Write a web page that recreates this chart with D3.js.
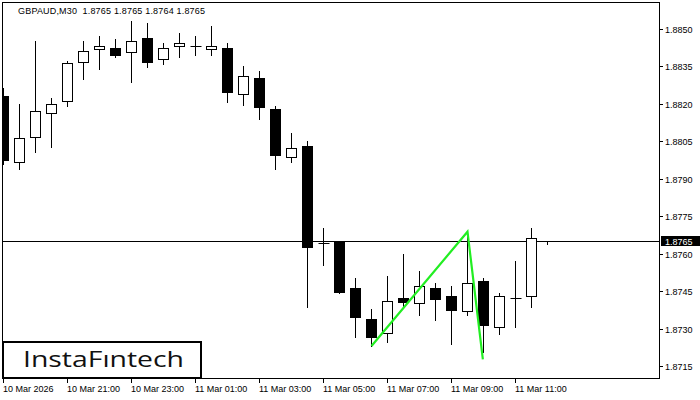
<!DOCTYPE html>
<html lang="en">
<head>
    <meta charset="UTF-8">
    <title>GBPAUD M30</title>
    <style>
        body { margin: 0; background: #fff; }
        text { font-family: "Liberation Sans", Arial, sans-serif; }
    </style>
</head>
<body></body>
<script src="https://cdn.jsdelivr.net/npm/d3@7"></script>
<script>
    let width = 700;
    let height = 400;

    // candles, one per 30 minutes, starting 10 Mar 19:00
    const opens  = [1.88232, 1.87967, 1.88069, 1.88164, 1.88210, 1.88368, 1.88421, 1.88424, 1.88409, 1.88464,
                    1.88381, 1.88431, 1.88433, 1.88421, 1.88424, 1.88241, 1.88304, 1.88180, 1.87988, 1.88031,
                    1.87641, 1.87650, 1.87461, 1.87337, 1.87281, 1.87421, 1.87401, 1.87461, 1.87429, 1.87369,
                    1.87490, 1.87307, 1.87421, 1.87429, 1.87650];
    const highs  = [1.88264, 1.88200, 1.88452, 1.88224, 1.88372, 1.88452, 1.88472, 1.88461, 1.88533, 1.88525,
                    1.88445, 1.88484, 1.88472, 1.88512, 1.88445, 1.88352, 1.88332, 1.88192, 1.88083, 1.88051,
                    1.87703, 1.87650, 1.87501, 1.87378, 1.87511, 1.87599, 1.87531, 1.87483, 1.87470, 1.87688,
                    1.87501, 1.87442, 1.87571, 1.87703, 1.87650];
    const lows   = [1.87959, 1.87939, 1.88007, 1.88027, 1.88190, 1.88300, 1.88341, 1.88389, 1.88289, 1.88349,
                    1.88361, 1.88389, 1.88397, 1.88397, 1.88209, 1.88197, 1.88141, 1.87940, 1.87967, 1.87388,
                    1.87556, 1.87441, 1.87267, 1.87230, 1.87247, 1.87386, 1.87355, 1.87335, 1.87239, 1.87355,
                    1.87207, 1.87279, 1.87307, 1.87388, 1.87640];
    const closes = [1.87975, 1.88063, 1.88172, 1.88200, 1.88362, 1.88412, 1.88432, 1.88397, 1.88452, 1.88369,
                    1.88423, 1.88444, 1.88433, 1.88432, 1.88249, 1.88311, 1.88189, 1.87996, 1.88022, 1.87628,
                    1.87641, 1.87448, 1.87347, 1.87267, 1.87409, 1.87408, 1.87469, 1.87420, 1.87376, 1.87481,
                    1.87315, 1.87429, 1.87421, 1.87662, 1.87650];

    const xTickIdx = [0, 4, 8, 12, 16, 20, 24, 28, 32];
    const xTickLabels = ["10 Mar 2026", "10 Mar 21:00", "10 Mar 23:00", "11 Mar 01:00", "11 Mar 03:00",
                         "11 Mar 05:00", "11 Mar 07:00", "11 Mar 09:00", "11 Mar 11:00"];
    const yTicks = [1.8850, 1.8835, 1.8820, 1.8805, 1.8790, 1.8775, 1.8760, 1.8745, 1.8730, 1.8715];

    const lastPrice = 1.8765;
    const title = "GBPAUD,M30  1.8765 1.8765 1.8764 1.8765";

    // pattern drawn in green
    const patternIdx = [23, 29, 29.96];
    const patternPrice = [1.87230, 1.87688, 1.87177];

    const pLeft = 3, pRight = 660, pTop = 2, pBottom = 378;

    let svg = d3.select("body")
                .append("svg")
                .attr("width", width)
                .attr("height", height)
                .style("display", "block");

    const x = d3.scaleLinear().domain([0, 41]).range([3.5, 659.5]);
    const y = d3.scaleLinear().domain([1.8715, 1.8850]).range([366, 29]);

    svg.append("clipPath").attr("id", "plot")
        .append("rect")
        .attr("x", pLeft).attr("y", pTop)
        .attr("width", pRight - pLeft).attr("height", pBottom - pTop);

    // price line
    svg.append("line")
        .attr("x1", pLeft).attr("x2", pRight)
        .attr("y1", Math.round(y(lastPrice)) + 0.5)
        .attr("y2", Math.round(y(lastPrice)) + 0.5)
        .attr("stroke", "black");

    const candles = d3.range(opens.length).map(i => ({
        i: i, o: opens[i], h: highs[i], l: lows[i], c: closes[i]
    }));

    const g = svg.append("g").attr("clip-path", "url(#plot)");

    const cg = g.selectAll("g.candle")
        .data(candles)
        .enter()
        .append("g")
        .attr("class", "candle");

    cg.append("line")
        .attr("x1", d => x(d.i)).attr("x2", d => x(d.i))
        .attr("y1", d => Math.round(y(d.h)))
        .attr("y2", d => Math.round(y(d.l)) + 1)
        .attr("stroke", "black");

    cg.filter(d => Math.abs(y(d.o) - y(d.c)) >= 1.5)
        .append("rect")
        .attr("x", d => x(d.i) - 5)
        .attr("y", d => Math.round(y(Math.max(d.o, d.c))) + 0.5)
        .attr("width", 10)
        .attr("height", d => Math.round(y(Math.min(d.o, d.c))) - Math.round(y(Math.max(d.o, d.c))))
        .attr("fill", d => d.c < d.o ? "black" : "white")
        .attr("stroke", "black");

    cg.filter(d => Math.abs(y(d.o) - y(d.c)) < 1.5)
        .append("line")
        .attr("x1", d => x(d.i) - 5).attr("x2", d => x(d.i) + 6)
        .attr("y1", d => Math.round(y(d.o)) + 0.5)
        .attr("y2", d => Math.round(y(d.o)) + 0.5)
        .attr("stroke", "black");

    // green pattern
    const pts = patternIdx.map((v, k) => [x(v), y(patternPrice[k])]);
    g.append("path")
        .attr("d", d3.line()(pts))
        .attr("fill", "none")
        .attr("stroke", "#22ee22")
        .attr("stroke-width", 2.2);

    // frame
    svg.append("rect")
        .attr("x", pLeft - 0.5).attr("y", pTop + 0.5)
        .attr("width", pRight - pLeft).attr("height", pBottom - pTop)
        .attr("fill", "none")
        .attr("stroke", "black");

    // y axis
    const ya = svg.append("g");
    yTicks.forEach(t => {
        const yy = Math.round(y(t)) + 0.5;
        ya.append("line")
            .attr("x1", pRight).attr("x2", pRight + 3)
            .attr("y1", yy).attr("y2", yy)
            .attr("stroke", "black");
        ya.append("text")
            .attr("x", pRight + 5).attr("y", yy + 3.5)
            .attr("font-size", 9)
            .attr("fill", "#000")
            .text(t.toFixed(4));
    });

    const ly = Math.round(y(lastPrice));
    svg.append("rect")
        .attr("x", pRight + 1).attr("y", ly - 5)
        .attr("width", 40).attr("height", 10)
        .attr("fill", "black");
    svg.append("text")
        .attr("x", pRight + 5).attr("y", ly + 4)
        .attr("font-size", 9)
        .attr("fill", "white")
        .text(lastPrice.toFixed(4));

    // x axis
    const xa = svg.append("g");
    xTickIdx.forEach((t, k) => {
        const xx = x(t);
        xa.append("line")
            .attr("x1", xx).attr("x2", xx)
            .attr("y1", pBottom + 1).attr("y2", pBottom + 5)
            .attr("stroke", "black");
        xa.append("text")
            .attr("x", xx - 0.5).attr("y", 392)
            .attr("font-size", 9)
            .attr("fill", "#000")
            .text(xTickLabels[k]);
    });

    svg.append("text")
        .attr("x", 18).attr("y", 14)
        .attr("font-size", 9)
        .attr("textLength", 187)
        .attr("lengthAdjust", "spacing")
        .attr("fill", "#000")
        .style("white-space", "pre")
        .text(title);

    // logo
    svg.append("rect")
        .attr("x", 3).attr("y", 342)
        .attr("width", 198).attr("height", 36)
        .attr("fill", "white")
        .attr("stroke", "black")
        .attr("stroke-width", 2);
    svg.append("text")
        .attr("x", 23).attr("y", 367)
        .attr("font-size", 22)
        .attr("textLength", 161)
        .attr("lengthAdjust", "spacingAndGlyphs")
        .style("font-family", "'Open Sans', sans-serif")
        .style("font-weight", 500)
        .attr("fill", "#111")
        .text("InstaFıntech");
</script>
</html>
